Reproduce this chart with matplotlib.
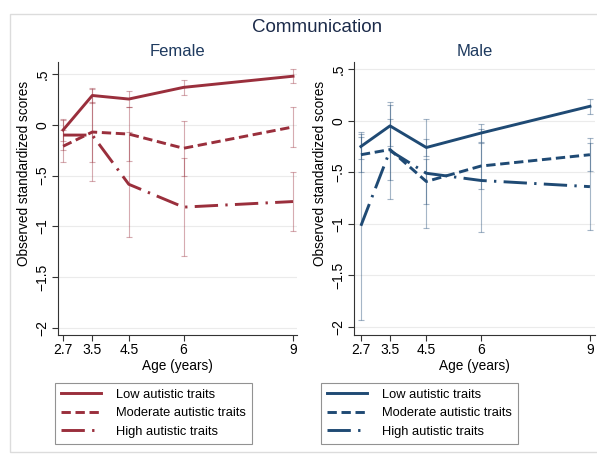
import matplotlib
matplotlib.use("Agg")
import matplotlib.pyplot as plt
from matplotlib.patches import Rectangle

plt.rcParams['font.family'] = ['Liberation Sans', 'DejaVu Sans']

# ages at which the scores were observed
ages = [2.7, 3.5, 4.5, 6, 9]
groups = ["Low autistic traits", "Moderate autistic traits", "High autistic traits"]

# female means and half-widths of the error bars
fem_low = [-0.05, 0.29, 0.255, 0.37, 0.48]
fem_low_err = [0.11, 0.07, 0.08, 0.075, 0.07]
fem_mod = [-0.21, -0.07, -0.09, -0.23, -0.02]
fem_mod_err = [0.16, 0.30, 0.27, 0.27, 0.20]
fem_high = [-0.10, -0.10, -0.585, -0.81, -0.755]
fem_high_err = [0.15, 0.45, 0.52, 0.48, 0.29]

# male means and half-widths of the error bars
male_low = [-0.25, -0.05, -0.26, -0.12, 0.14]
male_low_err = [0.12, 0.20, 0.085, 0.09, 0.075]
male_mod = [-0.33, -0.28, -0.59, -0.44, -0.33]
male_mod_err = [0.17, 0.30, 0.22, 0.22, 0.16]
male_high = [-1.02, -0.29, -0.51, -0.58, -0.64]
male_high_err = [0.91, 0.47, 0.53, 0.50, 0.42]

yticks = [0.5, 0, -0.5, -1, -1.5, -2]
ytick_labels = [".5", "0", "\u2212.5", "\u22121", "\u22121.5", "\u22122"]

styles = ['-', (0, (3.2, 1.6)), (0, (8, 2.5, 0.8, 2.5))]

fig = plt.figure(figsize=(5.97, 4.57), dpi=100)
fig.patches.append(Rectangle((10 / 597, 1 - 452 / 457), 590 / 597, 438 / 457,
                             transform=fig.transFigure, fill=False,
                             edgecolor='#dcdcdc', lw=1))

fig.text(317 / 597, 1 - 28 / 457, "Communication", ha='center', va='center',
         fontsize=13.5, color='#1c2b4a')


def panel(rect, title, color, means, errs, ylim, xlim, legend_box):
    ax = fig.add_axes(rect)
    lines = []
    for m, e, ls, lab in zip(means, errs, styles, groups):
        ax.errorbar(ages, m, yerr=e, fmt='none', ecolor=color, alpha=0.4,
                    elinewidth=0.8, capsize=2.5, capthick=0.8)
        ln, = ax.plot(ages, m, color=color, lw=2.1, linestyle=ls, label=lab)
        lines.append(ln)
    ax.set_xlim(*xlim)
    ax.set_ylim(*ylim)
    ax.set_xticks(ages)
    ax.set_xticklabels(["2.7", "3.5", "4.5", "6", "9"])
    ax.set_yticks(yticks)
    ax.set_yticklabels(ytick_labels, rotation=90, va='center')
    ax.tick_params(labelsize=10, length=4, width=0.8, color='#333333', pad=2)
    ax.grid(axis='y', color='#ebebeb', lw=0.8)
    ax.set_axisbelow(True)
    for s in ['top', 'right']:
        ax.spines[s].set_visible(False)
    for s in ['left', 'bottom']:
        ax.spines[s].set_color('#333333')
        ax.spines[s].set_linewidth(0.8)
    ax.set_xlabel("Age (years)", fontsize=9.8, labelpad=1)
    ax.set_ylabel("Observed standardized scores", fontsize=9.8)
    ax.yaxis.set_label_coords(-0.113, 0.59)
    ax.set_title(title, fontsize=12, color='#1e3a5f', pad=4)
    leg = fig.legend(handles=lines, loc='upper left',
                     bbox_to_anchor=legend_box, bbox_transform=fig.transFigure,
                     fontsize=9.3, frameon=True, fancybox=False, handlelength=3.1,
                     handletextpad=1.2, borderpad=0.45, labelspacing=0.5,
                     borderaxespad=0)
    leg.get_frame().set_edgecolor('#777777')
    leg.get_frame().set_linewidth(0.8)
    return ax


panel([58 / 597, 1 - 335 / 457, 239 / 597, 273 / 457], "Female", '#9a2f3c',
      [fem_low, fem_mod, fem_high], [fem_low_err, fem_mod_err, fem_high_err],
      (-2.07, 0.62), (2.56, 9.11), (55 / 597, 1 - 383 / 457))
panel([354 / 597, 1 - 335 / 457, 241 / 597, 273 / 457], "Male", '#1f4a74',
      [male_low, male_mod, male_high], [male_low_err, male_mod_err, male_high_err],
      (-2.08, 0.57), (2.51, 9.14), (321 / 597, 1 - 383 / 457))

fig.savefig("out.png", dpi=100)
